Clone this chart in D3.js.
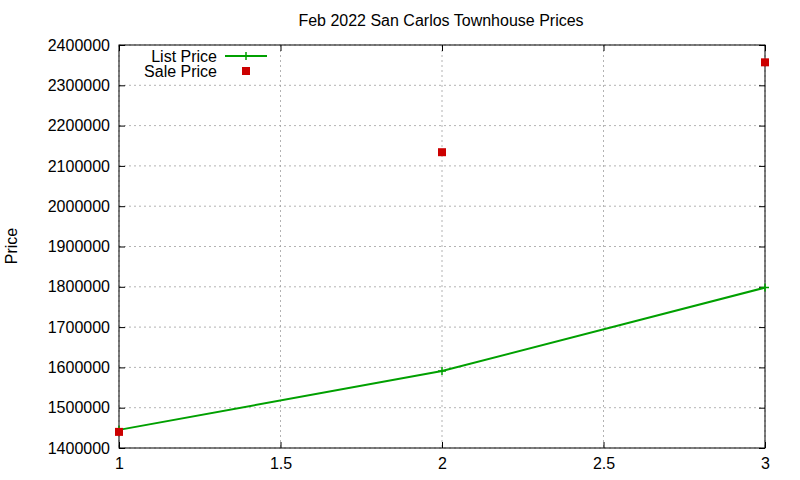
<!DOCTYPE html>
<html><head><meta charset="utf-8">
<script src="https://cdn.jsdelivr.net/npm/d3@7"></script>
<style>body{margin:0;background:#fff}text{font-family:"Liberation Sans",Arial,sans-serif;font-size:16px;fill:#000}</style>
</head><body><svg id="c" width="800" height="480"></svg>
<script>
const xs = [1, 2, 3];
const listPrice = [1445000, 1591000, 1798000];
const salePrice = [1440000, 2134000, 2357000];
const xTicks = [1, 1.5, 2, 2.5, 3];
const yTicks = [1400000,1500000,1600000,1700000,1800000,1900000,2000000,2100000,2200000,2300000,2400000];

const svg = d3.select("#c");
const L=119,R=765,T=45,B=448;
const x = d3.scaleLinear().domain([1,3]).range([L,R]);
const y = d3.scaleLinear().domain([1400000,2400000]).range([B,T]);

const g = svg.append("g");
g.selectAll(".vg").data(xTicks).enter().append("line")
 .attr("x1",d=>x(d)).attr("x2",d=>x(d)).attr("y1",T).attr("y2",B)
 .attr("stroke","#a0a0a0").attr("stroke-dasharray","2,3").attr("stroke-width",0.8);
g.selectAll(".hg").data(yTicks).enter().append("line")
 .attr("y1",d=>y(d)).attr("y2",d=>y(d)).attr("x1",L).attr("x2",R)
 .attr("stroke","#a0a0a0").attr("stroke-dasharray","2,3").attr("stroke-width",0.8);

const xa = svg.append("g").attr("transform",`translate(0,${B})`)
 .call(d3.axisBottom(x).tickValues(xTicks).tickFormat(d=>String(d)).tickSize(-6).tickPadding(10));
const xa2 = svg.append("g").attr("transform",`translate(0,${T})`)
 .call(d3.axisTop(x).tickValues(xTicks).tickFormat("").tickSize(-6));
const ya = svg.append("g").attr("transform",`translate(${L},0)`)
 .call(d3.axisLeft(y).tickValues(yTicks).tickFormat(d=>String(d)).tickSize(-6).tickPadding(9));
const ya2 = svg.append("g").attr("transform",`translate(${R},0)`)
 .call(d3.axisRight(y).tickValues(yTicks).tickFormat("").tickSize(-6));
[xa,xa2,ya,ya2].forEach(a=>{a.select(".domain").remove();a.selectAll("text").style("font-size","16px").style("font-family","Liberation Sans, Arial, sans-serif");});
svg.append("rect").attr("x",L).attr("y",T).attr("width",R-L).attr("height",B-T).attr("fill","none").attr("stroke","#000");

const line = d3.line().x((d,i)=>x(xs[i])).y(d=>y(d));
svg.append("path").datum(listPrice).attr("d",line).attr("fill","none").attr("stroke","#00a000").attr("stroke-width",2);
const plus=(px,py)=>{svg.append("path").attr("d",`M${px-4},${py}H${px+4}M${px},${py-4}V${py+4}`).attr("stroke","#00a000").attr("stroke-width",1.5);};
listPrice.forEach((d,i)=>plus(x(xs[i]),y(d)));
svg.selectAll(".sq").data(salePrice).enter().append("rect")
 .attr("x",(d,i)=>x(xs[i])-4).attr("y",d=>y(d)-4).attr("width",8).attr("height",8).attr("fill","#cc0000");

svg.append("text").attr("x",217).attr("y",62).attr("text-anchor","end").text("List Price");
svg.append("line").attr("x1",225).attr("x2",267).attr("y1",56).attr("y2",56).attr("stroke","#00a000").attr("stroke-width",2);
plus(246,56);
svg.append("text").attr("x",217).attr("y",77).attr("text-anchor","end").text("Sale Price");
svg.append("rect").attr("x",242).attr("y",67).attr("width",8).attr("height",8).attr("fill","#cc0000");

svg.append("text").attr("x",441).attr("y",26).attr("text-anchor","middle").text("Feb 2022 San Carlos Townhouse Prices");
svg.append("text").attr("transform","translate(17,246) rotate(-90)").attr("text-anchor","middle").text("Price");
</script></body></html>
